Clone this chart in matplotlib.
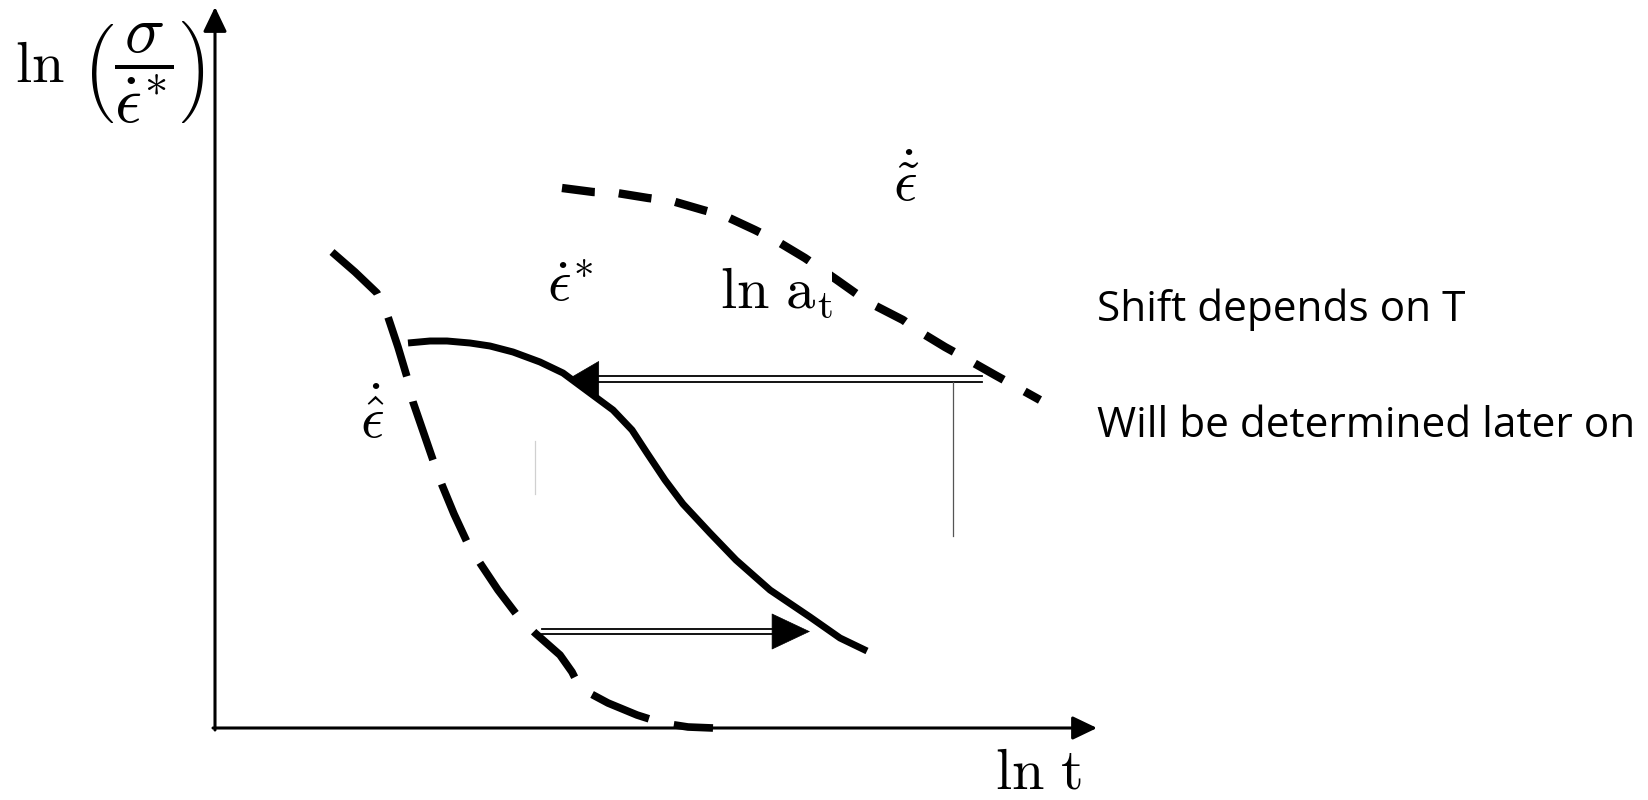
import matplotlib.pyplot as plt

plt.rcParams['mathtext.fontset'] = 'cm'
plt.rcParams['lines.scale_dashes'] = False

# schematic curves in drawing units (x to the right, y downward)
master_x = [408, 430, 447, 470, 490, 513, 540, 563, 590, 613, 632, 647, 665, 683,
            710, 736, 770, 810, 840, 867]
master_y = [343, 341, 341, 343, 346, 352, 362, 373, 393, 410, 430, 453, 480, 504,
            533, 560, 590, 617, 638, 651]

hat_x = [332, 355, 377, 388, 398, 407, 413, 423, 433, 442, 454, 467, 480, 498,
         517, 535, 560, 572, 580, 608, 637, 662, 688, 713]
hat_y = [252, 272, 293, 317, 347, 377, 402, 431, 460, 485, 514, 542, 563, 590,
         615, 633, 655, 672, 688, 703, 715, 723, 727, 728]

tilde_x = [562, 593, 617, 648, 672, 703, 725, 755, 775, 805, 837, 868, 903, 917,
           945, 965, 995, 1013, 1040]
tilde_y = [188, 192, 193, 198, 201, 210, 216, 230, 240, 258, 280, 302, 320, 330,
           347, 358, 375, 385, 400]

# shift arrows: tail, tip, head length
shift_left = [(982, 379), (568, 379), 30]
shift_right = [(542, 631.5), (810, 631.5), 37]
marker_x = 953
marker_y = [382, 536]

labels = [
    (r'$\dot{\epsilon}^{*}$', 570, 284),
    (r'$\dot{\tilde{\epsilon}}$', 906, 185),
    (r'$\dot{\hat{\epsilon}}$', 372, 420),
]
notes = ["Shift depends on T", "Will be determined later on"]
note_y = [321, 437]

fig = plt.figure(figsize=(16.48, 8), dpi=100)
ax = fig.add_axes([0, 0, 1, 1])
ax.set_xlim(0, 1648)
ax.set_ylim(800, 0)
ax.axis('off')

# axes with arrow heads
axis_arrow = dict(arrowstyle='-|>,head_length=1.0,head_width=0.48',
                  mutation_scale=15, lw=2.2, color='black', shrinkA=0, shrinkB=0)
ax.annotate('', xy=(215, 7), xytext=(215, 730), arrowprops=axis_arrow)
ax.annotate('', xy=(1097, 728), xytext=(213, 728), arrowprops=axis_arrow)

ax.plot(master_x, master_y, color='black', lw=5.0, solid_capstyle='butt',
        solid_joinstyle='round', zorder=3)
ax.plot(hat_x, hat_y, color='black', lw=5.5, linestyle=(0, (44.6, 18.5)),
        dash_capstyle='butt', zorder=3)
ax.plot(tilde_x, tilde_y, color='black', lw=6.0, linestyle=(0, (23.8, 17.3)),
        dash_capstyle='butt', zorder=3)

# double-line shift arrows
for (x0, y0), (x1, y1), hl in [shift_left, shift_right]:
    d = 1 if x1 > x0 else -1
    for off in (-2.7, 2.7):
        ax.plot([x0, x1 - d * hl], [y0 + off, y1 + off], color='black', lw=1.3)
    ax.annotate('', xy=(x1, y1), xytext=(x1 - d * hl, y1),
                arrowprops=dict(arrowstyle='-|>,head_length=%.2f,head_width=0.84'
                                % (hl * 0.72 / 15),
                                mutation_scale=15, lw=0.5, color='black',
                                shrinkA=0, shrinkB=0), zorder=4)

ax.plot([marker_x, marker_x], marker_y, color='#555555', lw=0.9)
ax.plot([535, 535], [441, 494], color='#d0d0d0', lw=0.9)

for txt, x, y in labels:
    ax.text(x, y, txt, fontsize=42, ha='center', va='center')

ax.text(776, 292, r'$\mathrm{ln\ a_t}$', fontsize=42, ha='center', va='center',
        zorder=5, bbox=dict(facecolor='white', edgecolor='none', pad=0))

# y label: "ln" plus a full-size fraction in parentheses
ax.text(40, 66, r'$\mathrm{ln}$', fontsize=42, ha='center', va='center')
ax.text(143, 72, r'$\left(\dfrac{\sigma}{\dot{\epsilon}^{*}}\right)$',
        fontsize=48, ha='center', va='center')
ax.text(1038, 772, r'$\mathrm{ln\ t}$', fontsize=42, ha='center', va='center')

for txt, y in zip(notes, note_y):
    ax.text(1097, y, txt, fontsize=30.5, family='Open Sans', ha='left',
            va='baseline')

fig.savefig('out.png', dpi=100)
